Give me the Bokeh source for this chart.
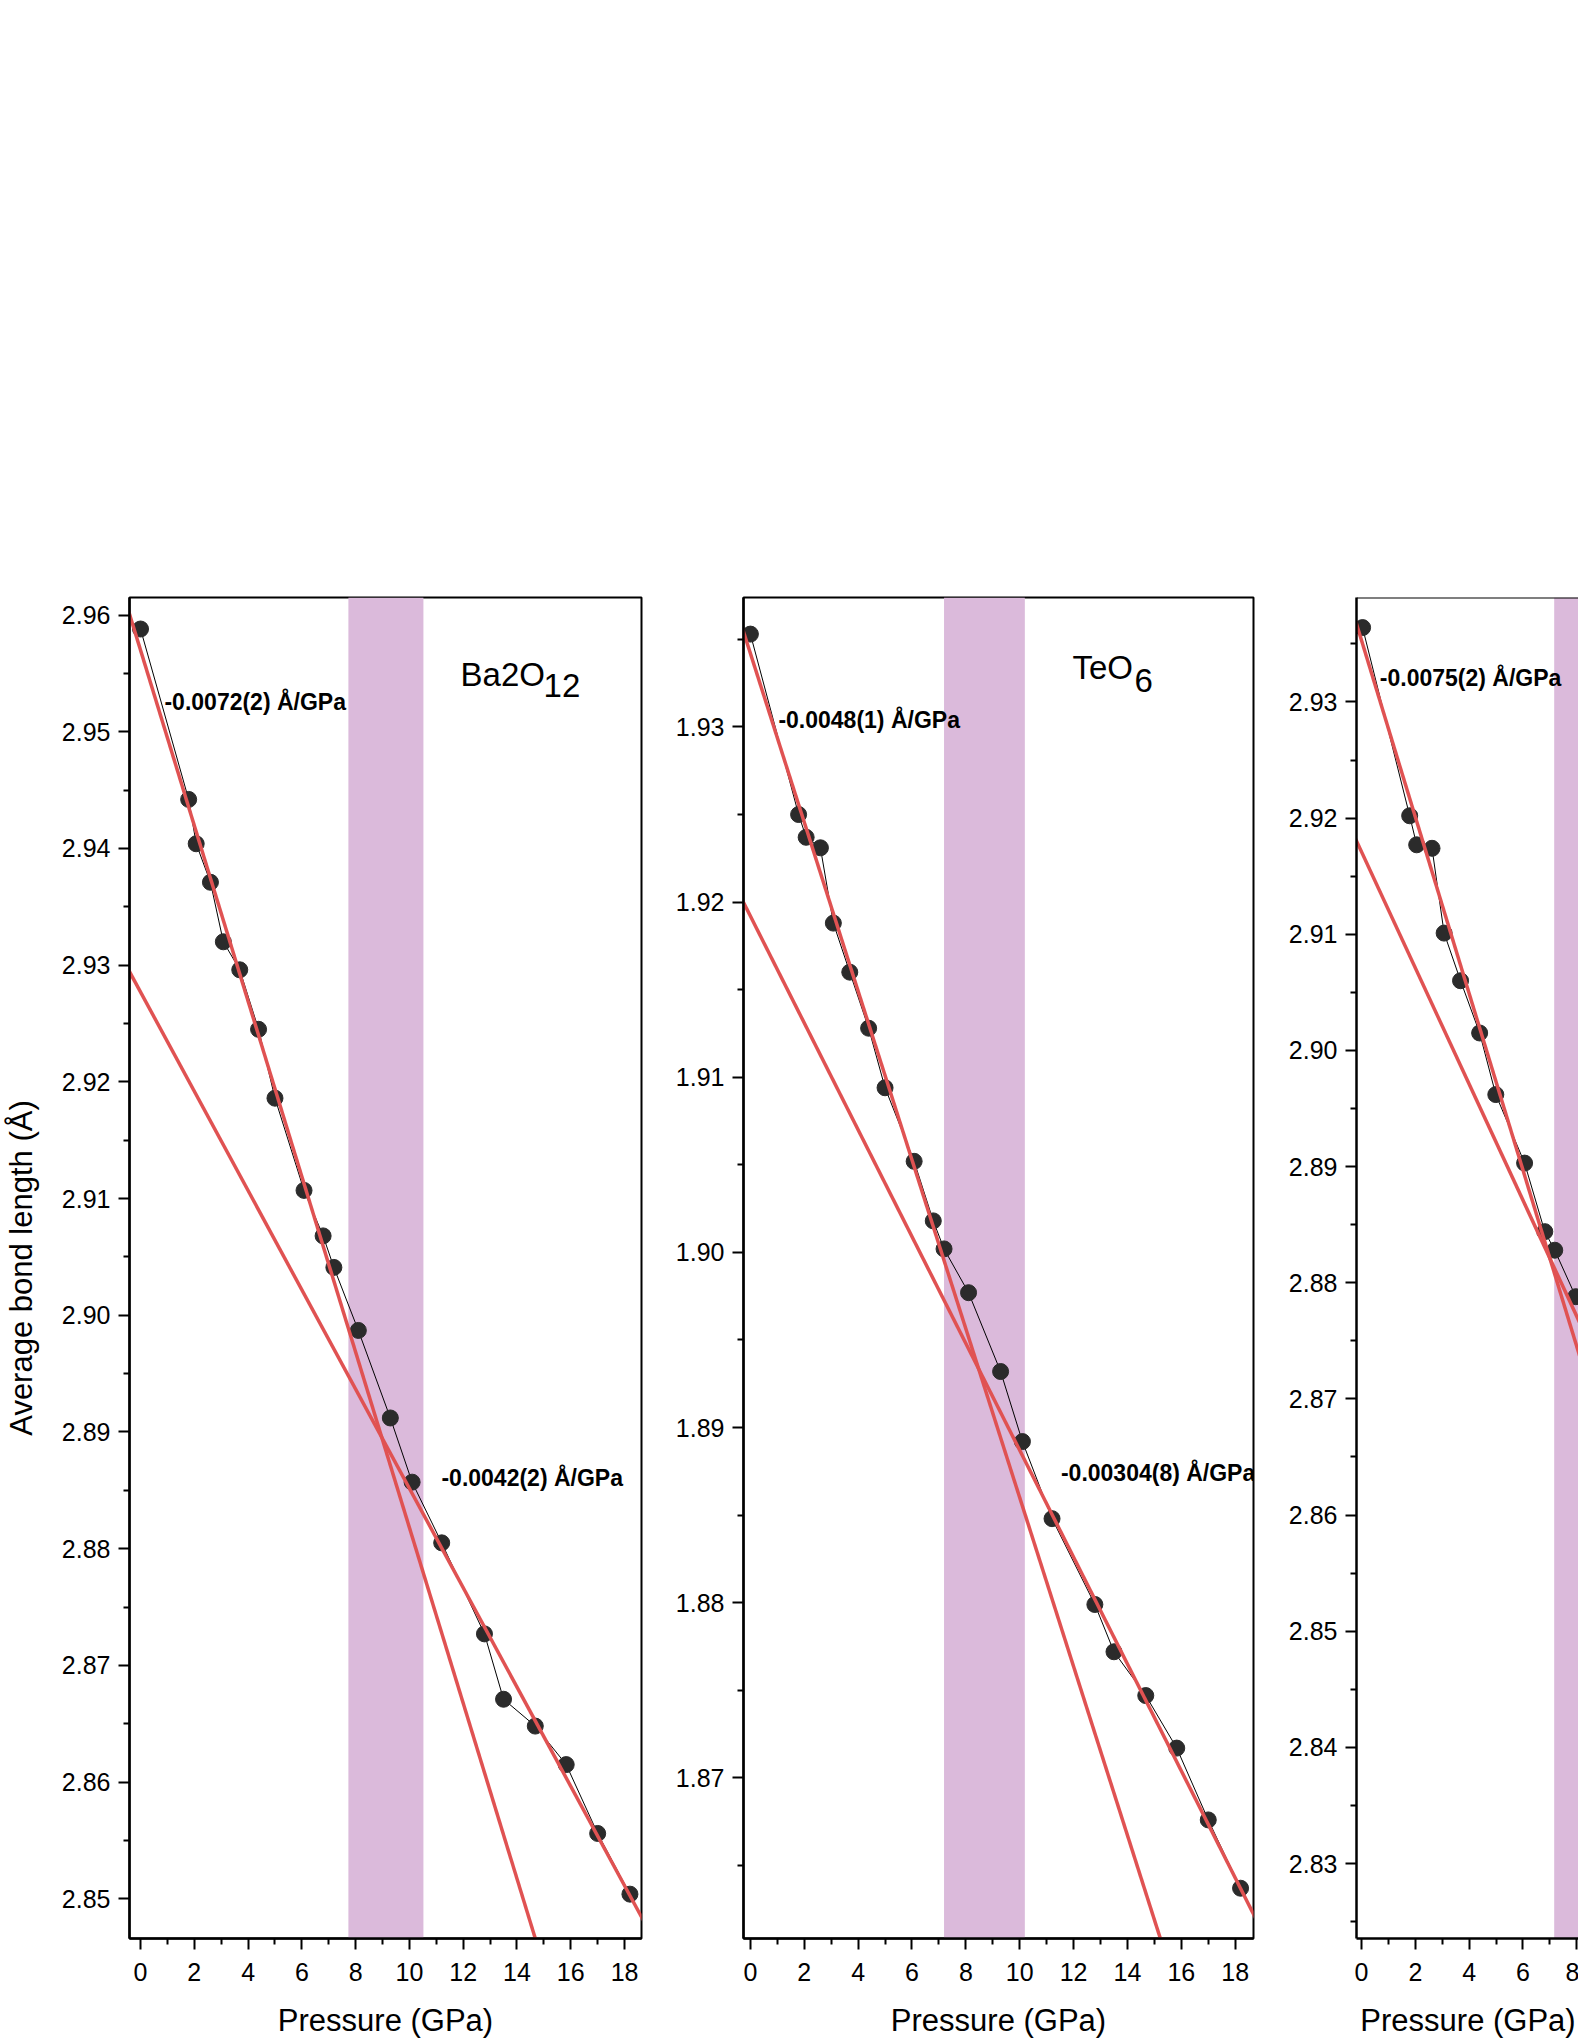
from bokeh.plotting import figure
from bokeh.layouts import row
from bokeh.models import Range1d, FixedTicker, NumeralTickFormatter, BoxAnnotation, Label, Span
from bokeh.embed import file_html
from bokeh.resources import INLINE

# ---------------- data ----------------
pressure = [0.0, 1.79, 2.07, 2.60, 3.08, 3.69, 4.39, 5.00, 6.08, 6.79, 7.19,
            8.10, 9.29, 10.10, 11.20, 12.79, 13.50, 14.68, 15.83, 17.00, 18.20]

ba2o12 = [2.9588, 2.9442, 2.9404, 2.9371, 2.9320, 2.9296, 2.9245, 2.9186, 2.9107, 2.9068, 2.9041,
          2.8987, 2.8912, 2.8857, 2.8805, 2.8727, 2.8671, 2.8648, 2.8615, 2.8556, 2.8504]

teo6 = [1.9353, 1.9250, 1.9237, 1.9231, 1.9188, 1.9160, 1.9128, 1.9094, 1.9052, 1.9018, 1.9002,
        1.8977, 1.8932, 1.8892, 1.8848, 1.8799, 1.8772, 1.8747, 1.8717, 1.8676, 1.8637]

# third panel (cut at the right edge of the reference)
third_pressure = [0.04, 1.79, 2.05, 2.62, 3.07, 3.68, 4.39, 4.99, 6.06, 6.81, 7.18, 7.96]
third = [2.9364, 2.9202, 2.9177, 2.9174, 2.9101, 2.9060, 2.9015, 2.8962, 2.8903, 2.8844, 2.8828, 2.8788]

# linear fits: intercept, slope  (low-pressure fit, high-pressure fit)
fit_ba_low = [2.9570, -0.00752]
fit_ba_high = [2.9277, -0.004254]
fit_te_low = [1.9342, -0.00482]
fit_te_high = [1.9192, -0.00305]
fit_3_low = [2.9353, -0.0076]
fit_3_high = [2.9171, -0.0050]

# transition bands (GPa)
band_ba = [7.73, 10.52]
band_te = [7.19, 10.19]
band_3 = [7.16, 10.2]

slope_labels_ba = ["-0.0072(2) Å/GPa", "-0.0042(2) Å/GPa"]
slope_labels_te = ["-0.0048(1) Å/GPa", "-0.00304(8) Å/GPa"]
slope_labels_3 = ["-0.0075(2) Å/GPa"]

x_ticks = [0, 2, 4, 6, 8, 10, 12, 14, 16, 18]
x_minor = [1, 3, 5, 7, 9, 11, 13, 15, 17]
y_ticks_ba = [2.85, 2.86, 2.87, 2.88, 2.89, 2.90, 2.91, 2.92, 2.93, 2.94, 2.95, 2.96]
y_ticks_te = [1.87, 1.88, 1.89, 1.90, 1.91, 1.92, 1.93]
y_ticks_3 = [2.83, 2.84, 2.85, 2.86, 2.87, 2.88, 2.89, 2.90, 2.91, 2.92, 2.93]

FONT = "Liberation Sans"
RED = "#E05252"
BAND = "#DBBADB"
DOT = "#2b2b2b"


def minor_of(ticks):
    out = []
    for t in ticks:
        out.append(round(t - 0.005, 4))
        out.append(round(t + 0.005, 4))
    return sorted(set(out))


def make_panel(xs, ys, fits, band, xr, yr, yticks, frame_w, mb_left, mb_right,
               ylabel=None, outline=True):
    p = figure(frame_width=frame_w, frame_height=1341,
               x_range=Range1d(*xr), y_range=Range1d(*yr),
               output_backend="svg", toolbar_location=None,
               min_border_left=mb_left, min_border_right=mb_right,
               min_border_top=597, min_border_bottom=104,
               background_fill_color="white", border_fill_color="white")
    p.xgrid.visible = False
    p.ygrid.visible = False
    if outline:
        p.outline_line_color = "black"
        p.outline_line_width = 2
    else:
        p.outline_line_color = None
        p.add_layout(Span(location=yr[1], dimension="width",
                          line_color="black", line_width=2))

    p.add_layout(BoxAnnotation(left=band[0], right=band[1], fill_color=BAND,
                               fill_alpha=1.0, line_color=None, level="underlay"))

    p.line(xs, ys, line_color="black", line_width=1)
    p.scatter(xs, ys, size=16, fill_color=DOT, line_color=DOT)

    for a, b in fits:
        fx = [xr[0] - 1, xr[1] + 1]
        p.line(fx, [a + b * v for v in fx], line_color=RED, line_width=3.5)

    for ax in (p.xaxis[0], p.yaxis[0]):
        ax.axis_line_width = 2.5
        ax.major_tick_line_width = 2
        ax.minor_tick_line_width = 2
        ax.major_tick_in = 0
        ax.minor_tick_in = 0
        ax.major_tick_out = 11
        ax.minor_tick_out = 6
        ax.major_label_text_font = FONT
        ax.major_label_text_font_size = "25px"
        ax.major_label_text_color = "black"
        ax.axis_label_text_font = FONT
        ax.axis_label_text_font_size = "31px"
        ax.axis_label_text_font_style = "normal"
        ax.axis_label_text_color = "black"

    p.xaxis.ticker = FixedTicker(ticks=x_ticks, minor_ticks=x_minor)
    p.xaxis.major_label_standoff = 13
    p.xaxis.axis_label_standoff = 19
    p.xaxis.axis_label = "Pressure (GPa)"

    p.yaxis.ticker = FixedTicker(ticks=yticks, minor_ticks=minor_of(yticks))
    p.yaxis.formatter = NumeralTickFormatter(format="0.00")
    p.yaxis.major_label_standoff = 8
    if ylabel:
        p.yaxis.axis_label = ylabel
        p.yaxis.axis_label_standoff = 20
    return p


def slope_label(p, x, y, text):
    p.add_layout(Label(x=x, y=y, text=text, text_font=FONT, text_font_size="23px",
                       text_font_style="bold", text_color="black",
                       text_baseline="alphabetic", text_align="left"))


def formula(p, x, y, main, sub, dx, dy):
    p.add_layout(Label(x=x, y=y, text=main, text_font=FONT, text_font_size="33px",
                       text_color="black", text_baseline="alphabetic", text_align="left"))
    p.add_layout(Label(x=x, y=y, x_offset=dx, y_offset=-dy, text=sub, text_font=FONT,
                       text_font_size="33px", text_color="black",
                       text_baseline="alphabetic", text_align="left"))


# ---------------- panel 1: Ba2O12 ----------------
p1 = make_panel(pressure, ba2o12, [fit_ba_low, fit_ba_high], band_ba,
                (-0.41, 18.63), (2.8466, 2.9615), y_ticks_ba, 512, 128, 20,
                ylabel="Average bond length (Å)")
slope_label(p1, 0.89, 2.95258, slope_labels_ba[0])
slope_label(p1, 11.19, 2.88603, slope_labels_ba[1])
formula(p1, 11.90, 2.9549, "Ba2O", "12", 83, 11)

# ---------------- panel 2: TeO6 ----------------
p2 = make_panel(pressure, teo6, [fit_te_low, fit_te_high], band_te,
                (-0.256, 18.68), (1.86083, 1.93739), y_ticks_te, 510, 82, 20)
slope_label(p2, 1.04, 1.93041, slope_labels_te[0])
slope_label(p2, 11.53, 1.88742, slope_labels_te[1])
formula(p2, 11.96, 1.93339, "TeO", "6", 62, 13)

# ---------------- panel 3 (cut off at the page edge in the reference) ----------------
p3 = make_panel(third_pressure, third, [fit_3_low, fit_3_high], band_3,
                (-0.186, 8.10), (2.82355, 2.93899), y_ticks_3, 223, 83, 0,
                outline=False)
slope_label(p3, 0.68, 2.93208, slope_labels_3[0])

layout = row(p1, p2, p3)
open("out.html", "w").write(file_html(layout, INLINE))
